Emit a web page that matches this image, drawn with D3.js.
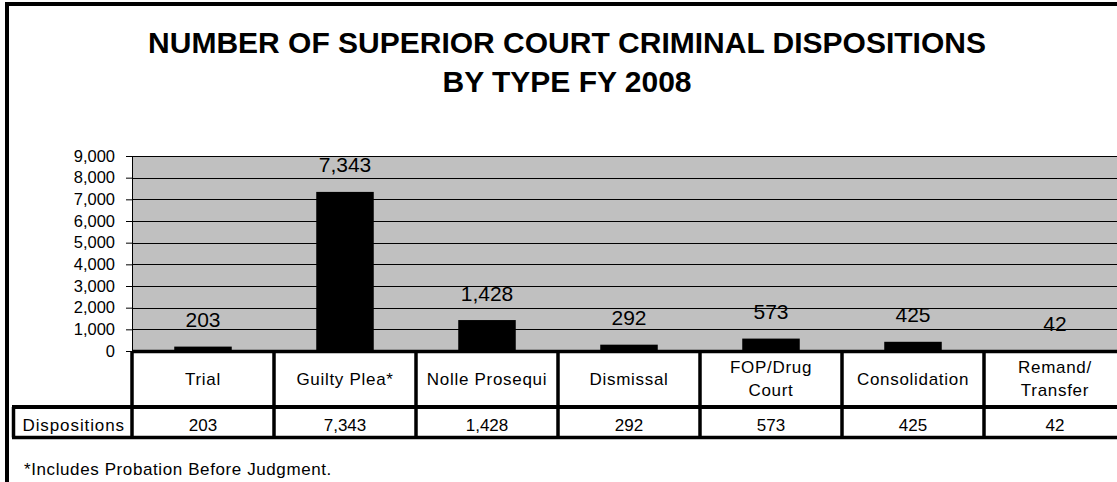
<!DOCTYPE html>
<html>
<head>
<meta charset="utf-8">
<script src="https://cdn.jsdelivr.net/npm/d3@7"></script>
<style>
  body { margin: 0; background: #fff; }
  svg { display: block; font-family: "Liberation Sans", Arial, sans-serif; }
</style>
</head>
<body>
<svg id="chart" width="1117" height="482"></svg>
<script>
// data
var titleLines = ['NUMBER OF SUPERIOR COURT CRIMINAL DISPOSITIONS', 'BY TYPE FY 2008'];
var categories = ['Trial', 'Guilty Plea*', 'Nolle Prosequi', 'Dismissal', 'FOP/Drug\nCourt', 'Consolidation', 'Remand/\nTransfer'];
var dispositions = [203, 7343, 1428, 292, 573, 425, 42];
var yTicks = [0, 1000, 2000, 3000, 4000, 5000, 6000, 7000, 8000, 9000];
var seriesName = 'Dispositions';
var footnote = '*Includes Probation Before Judgment.';

var svg = d3.select('#chart');
var fmt = d3.format(',');

var plotLeft = 132, colW = 142, plotTop = 156, plotBottom = 351;
var plotRight = plotLeft + colW * categories.length;
var rowSplit = 407, tableBottom = 437.5, rowLabelLeft = 13.5;

var x = d3.scaleBand()
    .domain(categories)
    .range([plotLeft, plotRight]);

var y = d3.scaleLinear()
    .domain([0, 9000])
    .range([plotBottom, plotTop]);

// outer frame
svg.append('path')
    .attr('d', 'M7,482 V4 H1117')
    .attr('fill', 'none')
    .attr('stroke', '#000')
    .attr('stroke-width', 4);

// title
svg.append('g').selectAll('text')
    .data(titleLines)
    .enter().append('text')
    .attr('x', 567)
    .attr('y', function (d, i) { return 53 + i * 39; })
    .attr('text-anchor', 'middle')
    .attr('font-size', 30)
    .attr('font-weight', 'bold')
    .text(function (d) { return d; });

// plot area
svg.append('rect')
    .attr('x', plotLeft)
    .attr('y', plotTop)
    .attr('width', plotRight - plotLeft)
    .attr('height', plotBottom - plotTop)
    .attr('fill', '#c0c0c0');

svg.append('g').selectAll('line')
    .data(yTicks.slice(1))
    .enter().append('line')
    .attr('x1', plotLeft)
    .attr('x2', plotRight)
    .attr('y1', function (d) { return Math.round(y(d)) + 0.5; })
    .attr('y2', function (d) { return Math.round(y(d)) + 0.5; })
    .attr('stroke', '#000')
    .attr('stroke-width', 1);

var yAxis = svg.append('g')
    .attr('transform', 'translate(' + plotLeft + ',0)')
    .call(d3.axisLeft(y).tickValues(yTicks).tickSize(6).tickPadding(11).tickFormat(fmt));
yAxis.select('.domain').attr('stroke', '#000');
yAxis.selectAll('text')
    .attr('font-family', '"Liberation Sans", Arial, sans-serif')
    .attr('font-size', 16.5)
    .attr('fill', '#000');

// bars
var barW = colW * 0.405;
svg.append('g').selectAll('rect')
    .data(dispositions)
    .enter().append('rect')
    .attr('x', function (d, i) { return x(categories[i]) + (colW - barW) / 2; })
    .attr('y', function (d) { return y(d); })
    .attr('width', barW)
    .attr('height', function (d) { return plotBottom - y(d); })
    .attr('fill', '#000');

// value labels
svg.append('g').selectAll('text')
    .data(dispositions)
    .enter().append('text')
    .attr('x', function (d, i) { return x(categories[i]) + colW / 2; })
    .attr('y', function (d) { return y(d) - 19.5; })
    .attr('text-anchor', 'middle')
    .attr('font-size', 21)
    .text(fmt);

// data table: cells first
svg.append('rect')
    .attr('x', plotLeft).attr('y', plotBottom)
    .attr('width', plotRight - plotLeft).attr('height', tableBottom - plotBottom)
    .attr('fill', '#fff');

var table = svg.append('g')
    .attr('stroke', '#000')
    .attr('fill', 'none');

// category column dividers
table.selectAll('line.col')
    .data(categories.concat([null]))
    .enter().append('line')
    .attr('class', 'col')
    .attr('x1', function (d) { return d === null ? plotRight : x(d); })
    .attr('x2', function (d) { return d === null ? plotRight : x(d); })
    .attr('y1', plotBottom)
    .attr('y2', tableBottom)
    .attr('stroke-width', 3.5);

table.append('line')
    .attr('x1', plotLeft).attr('x2', plotRight)
    .attr('y1', plotBottom + 0.5).attr('y2', plotBottom + 0.5)
    .attr('stroke-width', 3.5);

table.append('line')
    .attr('x1', rowLabelLeft - 1.5).attr('x2', plotRight)
    .attr('y1', rowSplit).attr('y2', rowSplit)
    .attr('stroke-width', 4);

table.append('line')
    .attr('x1', rowLabelLeft - 1.5).attr('x2', plotRight)
    .attr('y1', tableBottom).attr('y2', tableBottom)
    .attr('stroke-width', 3.5);

table.append('line')
    .attr('x1', rowLabelLeft).attr('x2', rowLabelLeft)
    .attr('y1', rowSplit).attr('y2', tableBottom)
    .attr('stroke-width', 3.5);

// category labels
var catText = svg.append('g').selectAll('text')
    .data(categories)
    .enter().append('text')
    .attr('text-anchor', 'middle')
    .attr('font-size', 17)
    .attr('letter-spacing', 0.7)
    .attr('x', function (d) { return x(d) + colW / 2; })
    .attr('y', 384);

catText.each(function (d) {
    var lines = d.split('\n');
    var t = d3.select(this);
    lines.forEach(function (line, j) {
        t.append('tspan')
            .attr('x', x(d) + colW / 2)
            .attr('y', 384.5 + (j - (lines.length - 1) / 2) * 23.4)
            .text(line);
    });
});

// data row
svg.append('text')
    .attr('x', (rowLabelLeft + plotLeft) / 2 + 1)
    .attr('y', 430.5)
    .attr('text-anchor', 'middle')
    .attr('font-size', 17)
    .attr('letter-spacing', 0.9)
    .text(seriesName);

svg.append('g').selectAll('text')
    .data(dispositions)
    .enter().append('text')
    .attr('x', function (d, i) { return x(categories[i]) + colW / 2; })
    .attr('y', 430.5)
    .attr('text-anchor', 'middle')
    .attr('font-size', 17)
    .text(fmt);

// footnote
svg.append('text')
    .attr('x', 24)
    .attr('y', 475)
    .attr('font-size', 17)
    .attr('letter-spacing', 0.6)
    .text(footnote);
</script>
</body>
</html>
